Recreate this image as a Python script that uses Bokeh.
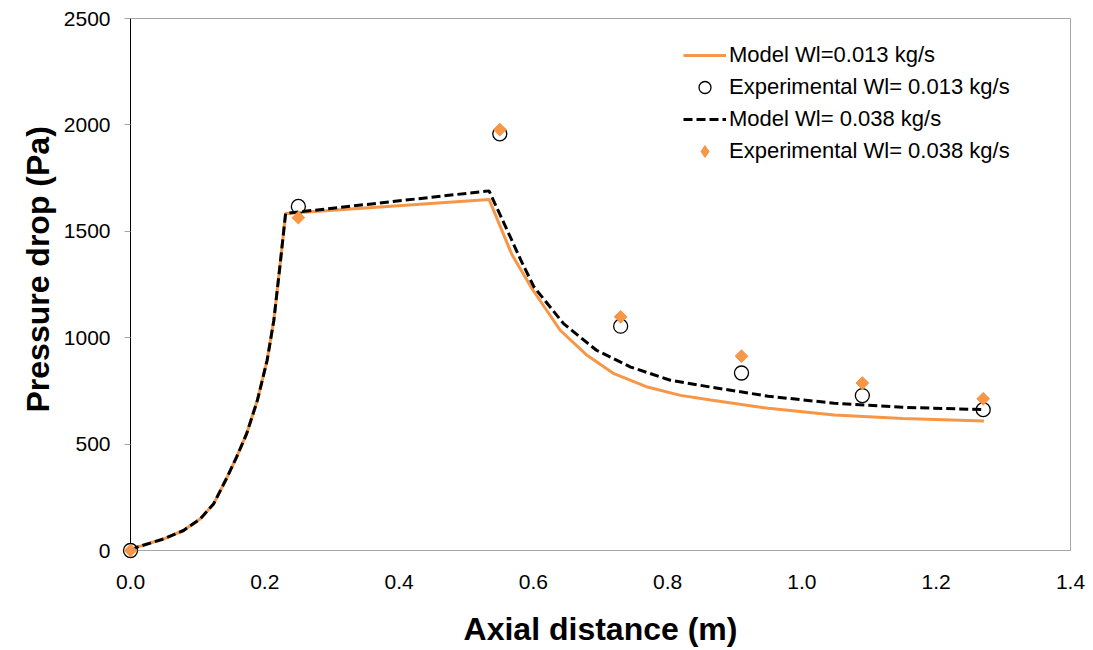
import math
from bokeh.plotting import figure
from bokeh.models import Range1d, FixedTicker, PrintfTickFormatter, Legend, LegendItem, Title
from bokeh.embed import file_html
from bokeh.resources import INLINE

# ---- data ----
model_013_x = [0, 0.01, 0.05, 0.079, 0.104, 0.124, 0.144, 0.158, 0.173, 0.189, 0.2035, 0.2135, 0.223, 0.231,
               0.534, 0.568, 0.598, 0.64, 0.68, 0.72, 0.77, 0.819, 0.864, 0.95, 1.048, 1.15, 1.271]
model_013_y = [0, 16, 55, 94, 149, 220, 345, 439, 549, 706, 894, 1082, 1349, 1584,
               1650, 1391, 1230, 1035, 917, 831, 768, 729, 707, 668, 637, 620, 608]

model_038_x = [0, 0.01, 0.05, 0.079, 0.104, 0.124, 0.144, 0.158, 0.173, 0.189, 0.2035, 0.2135, 0.223, 0.231,
               0.534, 0.556, 0.581, 0.601, 0.645, 0.694, 0.745, 0.804, 0.864, 0.95, 1.048, 1.15, 1.271]
model_038_y = [0, 16, 55, 94, 149, 220, 345, 439, 549, 706, 894, 1082, 1349, 1584,
               1690, 1540, 1367, 1238, 1066, 941, 862, 800, 768, 725, 692, 673, 662]

exp_x = [0, 0.25, 0.55, 0.73, 0.91, 1.09, 1.27]
exp_013_y = [0, 1617, 1958, 1054, 834, 728, 662]
exp_038_y = [0, 1564, 1978, 1098, 913, 787, 713]

x_ticks = [0, 0.2, 0.4, 0.6, 0.8, 1.0, 1.2, 1.4]
y_ticks = [0, 500, 1000, 1500, 2000, 2500]

labels = ["Model Wl=0.013 kg/s", "Experimental Wl= 0.013 kg/s",
          "Model Wl= 0.038 kg/s", "Experimental Wl= 0.038 kg/s"]
x_title = "Axial distance (m)"
y_title = "Pressure drop (Pa)"

ORANGE = "#F79646"
GRAY = "#a6a6a6"
FONT = "Liberation Sans"

p = figure(width=1093, height=650, output_backend="svg", toolbar_location=None,
           x_range=Range1d(0, 1.4), y_range=Range1d(0, 2500),
           min_border_left=130, min_border_right=23, min_border_top=18, min_border_bottom=100)

p.xgrid.visible = False
p.ygrid.visible = False
p.outline_line_color = GRAY
p.outline_line_width = 1
p.background_fill_color = "white"
p.border_fill_color = "white"

r1 = p.line(model_013_x, model_013_y, line_color=ORANGE, line_width=3)
r3 = p.line(model_038_x, model_038_y, line_color="black", line_width=3, line_dash="9 4")
r2 = p.scatter(exp_x, exp_013_y, marker="circle", size=14, fill_color=None,
               line_color="black", line_width=1.3, level="overlay")
r4 = p.scatter(exp_x, exp_038_y, marker="square", angle=math.pi / 4, size=9,
               fill_color=ORANGE, line_color=ORANGE, level="overlay")
# legend-only glyph (diamond shape for the legend swatch)
r4_leg = p.scatter([float("nan")], [float("nan")], marker="diamond", size=12,
                   fill_color=ORANGE, line_color=ORANGE)

# x axis
xa = p.xaxis[0]
xa.ticker = FixedTicker(ticks=x_ticks)
xa.formatter = PrintfTickFormatter(format="%.1f")
xa.axis_line_color = GRAY
xa.axis_line_width = 1
xa.major_tick_line_color = None
xa.minor_tick_line_color = None
xa.major_tick_out = 0
xa.major_tick_in = 0
xa.major_label_standoff = 24
xa.major_label_text_font = FONT
xa.major_label_text_font_size = "21px"
xa.major_label_text_color = "black"
xa.axis_label = x_title
xa.axis_label_text_font = FONT
xa.axis_label_text_font_style = "bold"
xa.axis_label_text_font_size = "32px"
xa.axis_label_text_color = "black"
xa.axis_label_standoff = 19

# y axis
ya = p.yaxis[0]
ya.ticker = FixedTicker(ticks=y_ticks)
ya.axis_line_color = "black"
ya.axis_line_width = 1
ya.major_tick_line_color = GRAY
ya.major_tick_out = 6
ya.major_tick_in = 0
ya.minor_tick_line_color = None
ya.major_label_standoff = 14
ya.major_label_text_font = FONT
ya.major_label_text_font_size = "21px"
ya.major_label_text_color = "black"

# y title as a side title, placed slightly above centre as in the original
ytitle = Title(text=y_title, align="left", offset=138,
               text_font=FONT, text_font_style="bold", text_font_size="32px", text_color="black")
p.add_layout(ytitle, "left")

legend = Legend(items=[LegendItem(label=labels[0], renderers=[r1]),
                       LegendItem(label=labels[1], renderers=[r2]),
                       LegendItem(label=labels[2], renderers=[r3]),
                       LegendItem(label=labels[3], renderers=[r4_leg])],
                location=(553, 384), padding=0, margin=0, spacing=2,
                glyph_width=43, glyph_height=30, label_height=30, label_standoff=3,
                label_text_font=FONT, label_text_font_size="22px", label_text_color="black",
                background_fill_alpha=0, border_line_alpha=0)
p.add_layout(legend, "center")

open("out.html", "w").write(file_html(p, INLINE))
